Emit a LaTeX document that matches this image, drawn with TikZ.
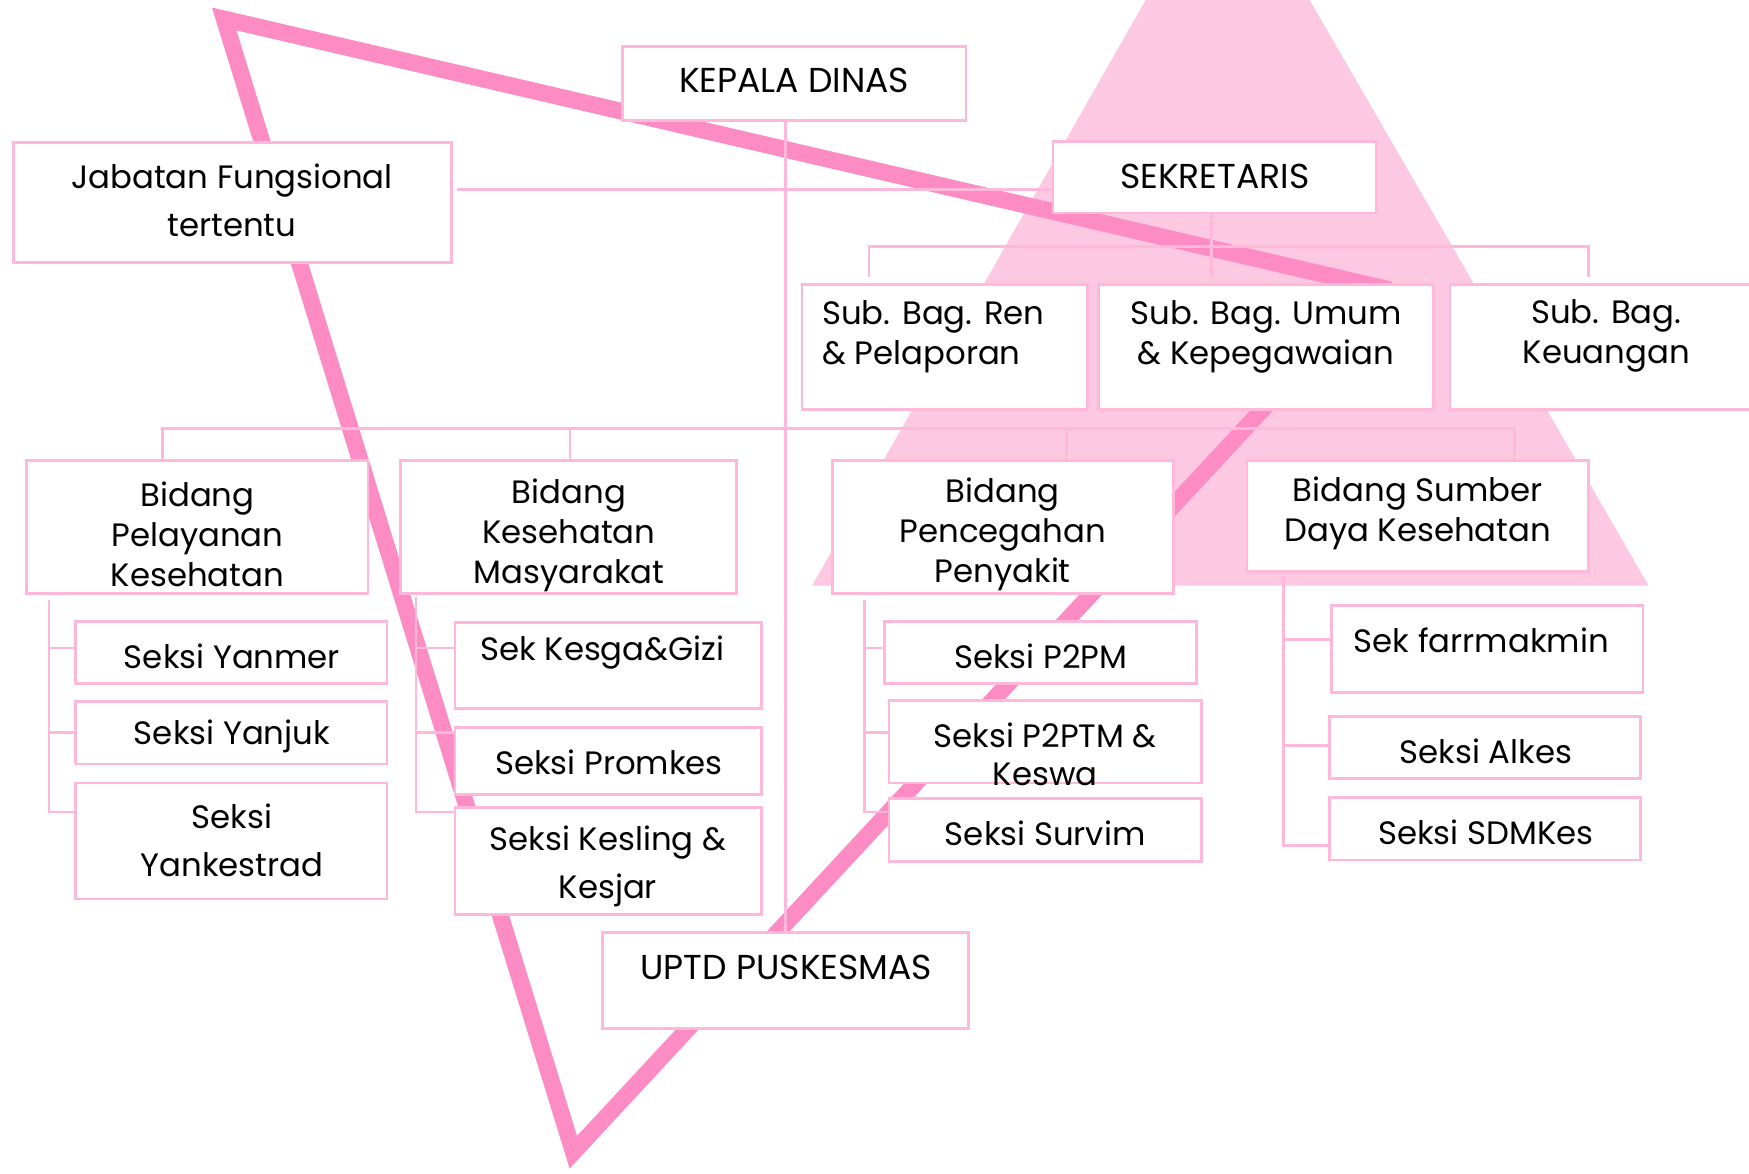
\documentclass[tikz,border=0pt]{standalone}
\usepackage{fontspec}
\setmainfont{Poppins}
\definecolor{trifill}{HTML}{FDC8E1}
\definecolor{thickpink}{HTML}{FD8CC4}
\definecolor{boxline}{HTML}{FFB8DA}
\pgfdeclarelayer{trilayer}
\pgfdeclarelayer{connlayer}
\pgfsetlayers{trilayer,connlayer,main}
\newcommand{\bx}[5]{\node[boxnode, minimum width={#4-#2}, minimum height={#5-#3}] (#1) at ({(#2+#4)/2},{(#3+#5)/2}) {};}
\begin{document}
\begin{tikzpicture}[x=1pt,y=-1pt,
  boxnode/.style={draw=boxline, line width=2.5pt, fill=white, inner sep=0pt},
  conn/.style={draw=boxline, line width=2.5pt},
  txt/.style={font=\fontsize{29}{36}\selectfont, align=center, inner sep=0pt, text=black},
  txtc/.style={font=\fontsize{31}{36}\selectfont, align=center, inner sep=0pt, text=black},
  txtw/.style={font=\fontsize{29}{43}\selectfont, align=center, inner sep=0pt, text=black}]
\useasboundingbox (0,0) rectangle (1568,1052);
\clip (0,0) rectangle (1568,1052);
\begin{pgfonlayer}{trilayer}
\fill[trifill] (1100,-128) -- (728,525) -- (1478,525) -- cycle;
\draw[thickpink, line width=15pt, miter limit=20] (201,17) -- (1234,257) -- (514,1033) -- cycle;
\end{pgfonlayer}
% boxes
\bx{kepala}{558}{42}{866}{108}
\bx{jab}{12}{128}{405}{235}
\bx{sek}{944}{127}{1234}{191}
\bx{subren}{719}{255}{975}{367}
\bx{subumum}{985}{255}{1285}{367}
\bx{subkeu}{1300}{255}{1600}{367}
\bx{bpel}{24}{413}{330}{532}
\bx{bkm}{359}{413}{660}{532}
\bx{bpp}{746}{413}{1052}{532}
\bx{bsd}{1118}{413}{1424}{512}
\bx{yanmer}{68}{557}{347}{613}
\bx{yanjuk}{68}{629}{347}{685}
\bx{yankes}{68}{702}{347}{806}
\bx{kesga}{408}{558}{683}{635}
\bx{promkes}{408}{652}{683}{712}
\bx{kesling}{408}{724}{683}{820}
\bx{ptpm}{793}{557}{1073}{613}
\bx{ptptm}{797}{628}{1077}{702}
\bx{survim}{797}{716}{1077}{772}
\bx{farm}{1194}{543}{1473}{621}
\bx{alkes}{1192}{642}{1471}{698}
\bx{sdm}{1192}{715}{1471}{771}
\bx{uptd}{540}{836}{868}{922}
% texts
\node[txtc] (t-kepala) at (712,72) {KEPALA DINAS};
\node[txtw] (t-jab) at (208,180) {Jabatan Fungsional\\tertentu};
\node[txtc] (t-sek) at (1089,158) {SEKRETARIS};
\node[txt, align=left, anchor=west] (t-subren) at (737,302) {Sub. Bag. Ren\\\& Pelaporan};
\node[txt] (t-subumum) at (1135,302) {Sub. Bag. Umum\\\& Kepegawaian};
\node[txt] (t-subkeu) at (1440,301) {Sub. Bag.\\Keuangan};
\node[txt] (t-bpel) at (177,479) {Bidang\\Pelayanan\\Kesehatan};
\node[txt] (t-bkm) at (510,480) {Bidang\\Kesehatan\\Masyarakat};
\node[txt] (t-bpp) at (899,479) {Bidang\\Pencegahan\\Penyakit};
\node[txt] (t-bsd) at (1271,460) {Bidang Sumber\\Daya Kesehatan};
\node[txt] (t-yanmer) at (208,588) {Seksi Yanmer};
\node[txt] (t-yanjuk) at (208,660) {Seksi Yanjuk};
\node[txtw] (t-yankes) at (208,753) {Seksi\\Yankestrad};
\node[txt] (t-kesga) at (540,585) {Sek Kesga\&Gizi};
\node[txt] (t-promkes) at (546,683) {Seksi Promkes};
\node[txtw] (t-kesling) at (545,777) {Seksi Kesling \&\\Kesjar};
\node[txt] (t-ptpm) at (933,588) {Seksi P2PM};
\node[txt, font=\fontsize{29}{34}\selectfont] (t-ptptm) at (937,676) {Seksi P2PTM \&\\Keswa};
\node[txt] (t-survim) at (937,747) {Seksi Survim};
\node[txt] (t-farm) at (1328,574) {Sek farrmakmin};
\node[txt] (t-alkes) at (1332,674) {Seksi Alkes};
\node[txt] (t-sdm) at (1332,746) {Seksi SDMKes};
\node[txtc] (t-uptd) at (705,867) {UPTD PUSKESMAS};
% helper coordinates
\coordinate (j1) at (410,170);
\coordinate (sbus) at (0,221);
\coordinate (bbus) at (0,384);
\coordinate (tpel) at (44,538);
\coordinate (tkm) at (373,535);
\coordinate (tpp) at (775,538);
\coordinate (tsd) at (1151,516);
\begin{pgfonlayer}{connlayer}
% kepala -> uptd
\draw[conn] (kepala.south -| uptd.north) -- (uptd.north);
% jabatan -> sekretaris
\draw[conn] (j1) -- (j1 -| sek.west);
% sekretaris -> sub bag
\draw[conn] (sek.south -| 1086,0) -- (1086,248);
\draw[conn] (779,248) |- (sbus -| 1424,0) -- (1424,248);
% bidang bus
\draw[conn] (146,413) |- (bbus -| 1358,0) -- (1358,413);
\draw[conn] (511,384) -- (bkm.north -| 511,0);
\draw[conn] (956,384) -- (bpp.north -| 956,0);
% seksi trees
\draw[conn] (tpel) |- (yankes.west |- 0,728);
\draw[conn] (44,581) -- (yanmer.west |- 0,581);
\draw[conn] (44,657) -- (yanjuk.west |- 0,657);
\draw[conn] (tkm) |- (kesling.west |- 0,728);
\draw[conn] (373,581) -- (kesga.west |- 0,581);
\draw[conn] (373,657) -- (promkes.west |- 0,657);
\draw[conn] (tpp) |- (survim.west |- 0,728);
\draw[conn] (775,581) -- (ptpm.west |- 0,581);
\draw[conn] (775,657) -- (ptptm.west |- 0,657);
\draw[conn] (tsd) |- (sdm.west |- 0,758);
\draw[conn] (1151,573) -- (farm.west |- 0,573);
\draw[conn] (1151,668) -- (alkes.west |- 0,668);
\end{pgfonlayer}
\end{tikzpicture}
\end{document}
